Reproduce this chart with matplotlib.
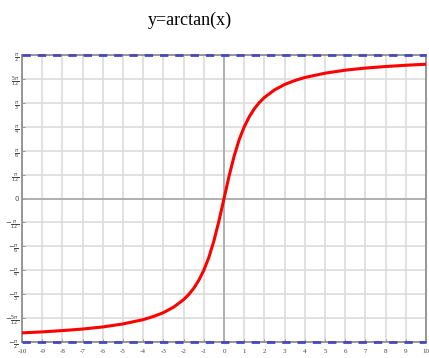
import numpy as np
import matplotlib
matplotlib.use("Agg")
import matplotlib.pyplot as plt

# sampled points of the curve
x_pts = [-10, -9, -8, -7, -6, -5, -4, -3.5, -3, -2.5, -2, -1.75, -1.5, -1.25, -1, -0.75, -0.5, -0.25,
         0, 0.25, 0.5, 0.75, 1, 1.25, 1.5, 1.75, 2, 2.5, 3, 3.5, 4, 5, 6, 7, 8, 9, 10]
y_pts = [-1.471, -1.460, -1.446, -1.429, -1.406, -1.373, -1.326, -1.292, -1.249, -1.190, -1.107,
         -1.052, -0.983, -0.896, -0.785, -0.644, -0.464, -0.245,
         0.0, 0.245, 0.464, 0.644, 0.785, 0.896, 0.983, 1.052, 1.107, 1.190, 1.249, 1.292, 1.326,
         1.373, 1.406, 1.429, 1.446, 1.460, 1.471]

x_ticks = list(range(-10, 11))
y_ticks = [k * np.pi / 12 for k in range(-6, 7)]
y_labels = [r'$-\frac{\pi}{2}$', r'$-\frac{5\pi}{12}$', r'$-\frac{\pi}{3}$', r'$-\frac{\pi}{4}$',
            r'$-\frac{\pi}{6}$', r'$-\frac{\pi}{12}$', '0', r'$\frac{\pi}{12}$', r'$\frac{\pi}{6}$',
            r'$\frac{\pi}{4}$', r'$\frac{\pi}{3}$', r'$\frac{5\pi}{12}$', r'$\frac{\pi}{2}$']
asymptotes = [-np.pi / 2, np.pi / 2]

fig = plt.figure(figsize=(4.29, 3.58), dpi=100)
ax = fig.add_axes([0.0513, 0.0447, 0.9417, 0.8013])

ax.set_xlim(-10, 10)
ax.set_ylim(-np.pi / 2, np.pi / 2)
ax.set_xticks(x_ticks)
ax.set_xticklabels([str(t) for t in x_ticks], fontsize=5, family='Liberation Serif', color='#444444')
ax.set_yticks(y_ticks)
ax.set_yticklabels(y_labels, fontsize=5, color='#444444')
ax.tick_params(direction='in', length=2, width=0.6, color='#888888', pad=2)
ax.tick_params(axis='x', pad=5)

ax.grid(True, color='#dcdcdc', linewidth=1.2)
ax.axhline(0, color='#a8a8a8', linewidth=1.2)
ax.axvline(0, color='#a8a8a8', linewidth=1.2)
for s in ax.spines.values():
    s.set_color('#888888')
    s.set_linewidth(1.2)

for a in asymptotes:
    ax.axhline(a, color='#4848c0', linewidth=2, linestyle=(0, (3, 2.5)), clip_on=False, zorder=5)

ax.plot(x_pts, y_pts, color='red', linewidth=2.2, zorder=4)

fig.text(190 / 429, 1 - 20 / 358, 'y=arctan(x)', ha='center', va='center',
         fontsize=13, family='Liberation Serif')

fig.savefig('out.png', dpi=100)
